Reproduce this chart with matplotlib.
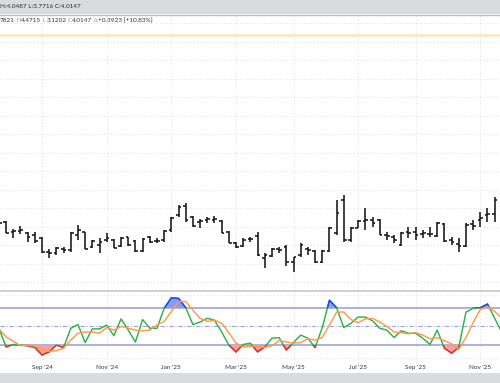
import numpy as np
import matplotlib
matplotlib.use("Agg")
import matplotlib.pyplot as plt
from matplotlib.patches import Rectangle
from matplotlib.lines import Line2D
from matplotlib.ticker import MultipleLocator

# ---------------- data (weekly bars, index 0 = week of Sep 2 '24) ----------------
bar_index = list(range(-6, 64))
opens = [3.797, 3.775, 3.667, 3.678, 3.656, 3.635, 3.602, 3.451, 3.440, 3.484,
         3.473, 3.635, 3.667, 3.505, 3.527, 3.581, 3.581, 3.516, 3.613, 3.570,
         3.462, 3.613, 3.570, 3.581, 3.689, 3.851, 3.948, 3.829, 3.775, 3.797,
         3.800, 3.786, 3.667, 3.548, 3.516, 3.592, 3.624, 3.386, 3.408, 3.484,
         3.505, 3.343, 3.419, 3.484, 3.462, 3.343, 3.462, 3.656, 4.013, 3.581,
         3.710, 3.786, 3.797, 3.797, 3.635, 3.613, 3.527, 3.667, 3.667, 3.646,
         3.646, 3.624, 3.754, 3.581, 3.538, 3.516, 3.754, 3.797, 3.851, 3.861]
highs = [3.829, 3.789, 3.696, 3.732, 3.670, 3.670, 3.616, 3.480, 3.509, 3.509,
         3.670, 3.743, 3.670, 3.581, 3.599, 3.653, 3.592, 3.616, 3.616, 3.581,
         3.599, 3.620, 3.599, 3.689, 3.832, 3.959, 3.977, 3.840, 3.810, 3.832,
         3.840, 3.797, 3.675, 3.562, 3.599, 3.616, 3.670, 3.437, 3.491, 3.509,
         3.527, 3.400, 3.545, 3.509, 3.473, 3.473, 3.724, 4.013, 4.067, 3.724,
         3.797, 3.923, 3.832, 3.804, 3.670, 3.635, 3.670, 3.724, 3.724, 3.689,
         3.724, 3.778, 3.761, 3.616, 3.599, 3.761, 3.797, 3.886, 3.923, 4.0487]
lows = [3.710, 3.653, 3.599, 3.646, 3.562, 3.545, 3.437, 3.383, 3.419, 3.437,
        3.454, 3.581, 3.480, 3.491, 3.437, 3.562, 3.491, 3.509, 3.520, 3.454,
        3.454, 3.545, 3.545, 3.562, 3.670, 3.832, 3.778, 3.724, 3.707, 3.761,
        3.768, 3.653, 3.545, 3.491, 3.509, 3.562, 3.410, 3.275, 3.400, 3.437,
        3.300, 3.238, 3.400, 3.419, 3.329, 3.329, 3.454, 3.635, 3.562, 3.562,
        3.707, 3.689, 3.724, 3.630, 3.581, 3.545, 3.520, 3.599, 3.581, 3.599,
        3.616, 3.616, 3.562, 3.527, 3.454, 3.509, 3.689, 3.724, 3.778, 3.7716]
closes = [3.764, 3.656, 3.678, 3.689, 3.613, 3.570, 3.451, 3.440, 3.494, 3.473,
          3.656, 3.689, 3.484, 3.570, 3.559, 3.602, 3.494, 3.602, 3.527, 3.462,
          3.592, 3.559, 3.565, 3.678, 3.818, 3.937, 3.797, 3.732, 3.786, 3.808,
          3.810, 3.656, 3.548, 3.505, 3.581, 3.590, 3.419, 3.419, 3.484, 3.473,
          3.343, 3.397, 3.527, 3.473, 3.343, 3.462, 3.710, 3.872, 3.581, 3.710,
          3.786, 3.797, 3.768, 3.635, 3.624, 3.581, 3.656, 3.656, 3.635, 3.656,
          3.646, 3.764, 3.570, 3.559, 3.516, 3.743, 3.732, 3.818, 3.861, 4.0147]

osc_index = list(range(-6, 65))
stoch_k = [47, 17, 21, 20, 19, 16, 4, 9, 20, 16, 47, 53, 24, 46, 46, 52, 35, 62,
           44, 25, 61, 47, 47, 79, 96, 95, 80, 53, 57, 63, 60, 41, 20, 9, 21, 23,
           9, 17, 31, 32, 12, 24, 36, 31, 16, 48, 92, 80, 48, 55, 65, 65, 59, 47,
           44, 32, 43, 39, 39, 31, 21, 44, 15, 7, 16, 73, 79, 80, 86, 63, 40]
stoch_d = [46, 33, 26, 19, 20, 18, 13, 10, 11, 15, 28, 39, 41, 41, 39, 48, 44, 50,
           47, 44, 43, 44, 52, 58, 74, 90, 90, 76, 63, 58, 60, 55, 40, 23, 17, 18,
           18, 16, 19, 27, 25, 23, 24, 30, 28, 32, 52, 73, 73, 61, 56, 62, 63, 57,
           50, 41, 40, 38, 40, 36, 30, 32, 27, 22, 13, 32, 56, 77, 82, 74, 63]

month_ticks = [0, 9, 18, 27, 35, 44, 52, 61]
month_labels = ["Sep '24", "Nov '24", "Jan '25", "Mar '25", "May '25", "Jul '25",
                "Sep '25", "Nov '25"]

upper_band, mid_band, lower_band = 80, 50, 20
alert_level = 5.80

header_text = "H:4.0487 L:3.7716 C:4.0147"
legend_pieces = ["7821", " H", "4.4715", " L", "3.1202", " C", "4.0147", " Δ",
                 "+0.3923 [+10.83%]"]

# ---------------- figure ----------------
W, H = 500, 383
plt.rcParams["font.family"] = ["Lato", "DejaVu Sans"]
fig = plt.figure(figsize=(W / 100, H / 100), dpi=100)
fig.patch.set_facecolor("white")


def fy(py):
    return 1 - py / H


ax = fig.add_axes([0, fy(290), 1, (290 - 14) / H])
ax2 = fig.add_axes([0, fy(373), 1, (373 - 291) / H])

for a in (ax, ax2):
    a.set_xlim(-5.85, 63.74)
    for s in a.spines.values():
        s.set_visible(False)
    a.set_facecolor("white")

# price panel
ax.set_ylim(3.0408, 6.0216)
ax.yaxis.set_major_locator(MultipleLocator(0.2, offset=0.124))
ax.set_xticks(month_ticks)
ax.grid(True, color="#e2e2e2", linestyle=(0, (1, 2)), linewidth=0.8)
ax.tick_params(left=False, bottom=False, labelleft=False, labelbottom=False)
ax.axhline(alert_level, color="#fde6bb", linewidth=1.8, zorder=1)

xb = np.array(bar_index, dtype=float)
tick_w = 0.38
bar_col = "#161616"
ax.vlines(xb, lows, highs, color=bar_col, linewidth=1.15, zorder=3)
ax.hlines(opens, xb - tick_w, xb, color=bar_col, linewidth=1.15, zorder=3)
ax.hlines(closes, xb, xb + tick_w, color=bar_col, linewidth=1.15, zorder=3)

# oscillator panel
ax2.set_ylim(-24.9, 106.9)
ax2.set_yticks([0, 100])
ax2.set_xticks(month_ticks)
ax2.set_xticklabels(month_labels)
ax2.grid(True, color="#e2e2e2", linestyle=(0, (1, 2)), linewidth=0.8)
ax2.tick_params(left=False, labelleft=False, bottom=False, length=0,
                pad=-6.0, labelsize=4.6, labelcolor="#333333")
band_col = "#a0a2d8"
ax2.axhline(upper_band, color=band_col, linewidth=1.2, zorder=2)
ax2.axhline(lower_band, color=band_col, linewidth=1.2, zorder=2)
ax2.axhline(mid_band, color=band_col, linewidth=0.8,
            linestyle=(0, (4, 1.5, 1, 1.5)), zorder=2)

xo = np.array(osc_index, dtype=float)
k = np.array(stoch_k, dtype=float)
d = np.array(stoch_d, dtype=float)
ax2.fill_between(xo, k, lower_band, where=k < lower_band, interpolate=True,
                 color="#f5a0a0", linewidth=0, zorder=3)
ax2.fill_between(xo, k, upper_band, where=k > upper_band, interpolate=True,
                 color="#8c9af2", linewidth=0, zorder=3)
ax2.plot(xo, k, color="#2db34a", linewidth=1.05, zorder=4)
red_line, = ax2.plot(xo, k, color="#ff2626", linewidth=1.05, zorder=5)
blue_line, = ax2.plot(xo, k, color="#2440ff", linewidth=1.05, zorder=5)
red_line.set_clip_path(Rectangle((-10, -50), 100, 50 + lower_band,
                                 transform=ax2.transData))
blue_line.set_clip_path(Rectangle((-10, upper_band), 100, 100,
                                  transform=ax2.transData))
ax2.plot(xo, d, color="#ff9a4a", linewidth=1.05, zorder=6)

# chrome: header band, separators, footer band
fig.add_artist(Rectangle((0, fy(14)), 1, 14 / H, transform=fig.transFigure,
                         facecolor="#d9dcdf", edgecolor="none", zorder=10))
fig.add_artist(Line2D([0, 1], [fy(14.5)] * 2, transform=fig.transFigure,
                      color="#b9bcbf", linewidth=1.0, zorder=11))
fig.add_artist(Line2D([0, 1], [fy(290.5)] * 2, transform=fig.transFigure,
                      color="#cfcfcf", linewidth=1.4, zorder=11))
fig.add_artist(Rectangle((0, 0), 1, fy(373), transform=fig.transFigure,
                         facecolor="#d9dcdf", edgecolor="none", zorder=10))

fs = 4.6
fig.text(-0.5 / W, fy(6.5), header_text, fontsize=fs,
         color="#2a2a2a", va="center", ha="left", zorder=12)

dark, light = "#333333", "#9a9a9a"
prev = fig.text(0, fy(20.5), legend_pieces[0], fontsize=fs, color=dark,
                va="center", ha="left", zorder=12)
for i, txt in enumerate(legend_pieces[1:], start=1):
    col = light if i % 2 == 1 else dark
    prev = ax.annotate(txt, xy=(1, 0), xycoords=prev, xytext=(0, 0),
                       textcoords="offset points", va="bottom", ha="left",
                       fontsize=fs, color=col, zorder=12, annotation_clip=False)

fig.savefig("out.png", dpi=100)
